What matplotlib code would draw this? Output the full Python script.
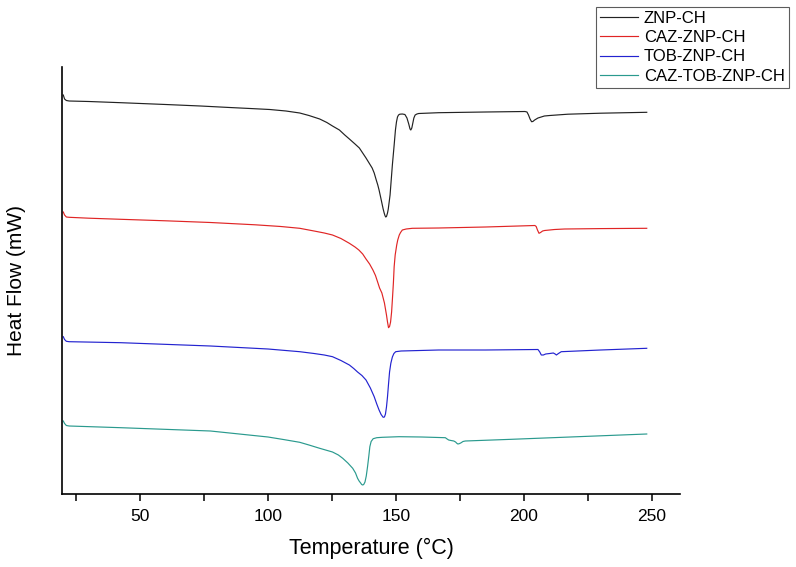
import numpy as np
import matplotlib
matplotlib.use("Agg")
import matplotlib.pyplot as plt
from matplotlib.ticker import MultipleLocator

plt.rcParams['font.family'] = ['Liberation Sans', 'DejaVu Sans']

# DSC thermograms (heat flow in arbitrary, stacked units)
t_znp = [20.0, 20.5, 21.2, 22.3, 30, 42.5, 60, 73.6, 85, 93, 100.7, 107, 112.4, 116,
         120.2, 123, 125.2, 127.9, 130, 131.8, 134, 135.7, 137, 138.3, 139.5, 140.7,
         141.5, 142.3, 142.9, 143.4, 144.0, 144.5, 145.0, 145.4, 145.7, 146.0, 146.3,
         146.7, 147.0, 147.3, 147.7, 148.0, 148.6, 149.3, 149.8, 150.2, 150.6, 151.0,
         151.5, 152.5, 153.5, 154.3, 155.0, 155.5, 155.8, 156.2, 156.6, 157.0, 157.5,
         158.2, 158.9, 166.7, 185, 200.4, 201.2, 201.8, 202.4, 203.0, 203.5, 204.2,
         205.5, 208, 210.1, 217.2, 230, 248]
hf_znp = [405, 401, 399.5, 399, 398.5, 397.3, 395.5, 394, 392.5, 391.5, 390.5, 389, 387, 384.5,
          381, 377.5, 374, 370, 365, 361, 356, 352, 347, 342, 337, 332,
          327, 320, 315, 310, 303, 297, 291, 287, 284.5, 283, 283.5,
          287, 291, 297, 305, 315, 335, 355, 370, 378, 383, 385,
          385.8, 386, 385.5, 382, 376, 371, 370, 372, 377, 382, 385,
          386, 386.5, 387.3, 388, 388.5, 388, 385, 381, 378.3, 378.5, 380,
          382, 384, 384.5, 385.8, 386.8, 387.7]

t_caz = [20.0, 20.5, 21.2, 22.3, 30, 42.5, 60, 77.5, 95, 105, 112.4, 118, 122, 125.2,
         128.5, 131.8, 134, 135.5, 137, 138.3, 139.7, 141, 142, 142.8, 143.6, 144.5,
         145.0, 145.5, 145.9, 146.3, 146.7, 147.1, 147.5, 147.9, 148.3, 148.6, 149.0,
         149.3, 149.7, 150.3, 150.7, 151.3, 151.8, 152.5, 154, 156.4, 166.7, 185,
         204.3, 204.8, 205.3, 205.9, 206.5, 207.3, 208.1, 212, 215.9, 230, 248]
hf_caz = [288, 285, 283, 282.7, 281.8, 280.7, 279.2, 277.5, 275.2, 273.5, 271.7, 269, 267, 265,
          261.5, 256.7, 253, 250, 246, 241, 236, 230, 224.5, 218.3, 212, 207,
          202, 197, 191, 185, 178, 172.3, 173.5, 178, 188, 200, 217,
          233.3, 245, 255, 260, 265, 267.5, 270, 271, 271.7, 272, 273,
          274.5, 273.5, 270, 266.7, 267.5, 269, 269.5, 270.5, 271, 271.4, 271.7]

t_tob = [20.0, 20.5, 21.2, 22.3, 42.5, 77.5, 100, 112.4, 118, 122, 125.2, 128.5, 131.8,
         133.5, 135, 136.7, 138.3, 140, 141.5, 142.5, 143.4, 144.2, 145.0, 145.5, 145.9,
         146.3, 146.7, 147.1, 147.5, 148.0, 148.6, 149.2, 149.9, 152, 156.4, 166.7, 185,
         205.5, 206.2, 206.8, 207.6, 208.5, 210.1, 211.5, 212.2, 212.7, 213.5, 214.6,
         230, 248]
hf_tob = [163.3, 160.5, 158.7, 158.3, 157.3, 154, 151, 148.3, 146.5, 145, 143.3, 139.5, 135,
          131.5, 128, 124.5, 120, 112, 103.3, 96, 90, 85.5, 82.7, 83, 86,
          93, 103.3, 116, 128, 136.7, 143, 146.5, 148.3, 149, 149.3, 150, 150,
          150.5, 148, 145, 145, 146, 146.5, 147, 146, 145, 146.5, 148.3,
          150, 151.7]

t_caztob = [20.0, 20.5, 21.2, 22.3, 42.5, 77.5, 100, 106, 112.4, 116, 120.2, 125.2, 127.5,
            129.2, 131.2, 133.1, 134.2, 135.0, 135.6, 136.2, 136.6, 137.0, 137.4, 137.9,
            138.4, 138.9, 139.4, 139.8, 140.3, 141.1, 142.5, 144.7, 151.2, 160, 169.3,
            170.0, 170.6, 171.5, 172.6, 173.3, 173.8, 174.2, 174.7, 175.3, 176.2, 177.1,
            195.2, 221.1, 248]
hf_caztob = [79, 76.5, 74.5, 74, 72.3, 69, 63, 60.5, 57.7, 55, 51.7, 48, 45,
             41.7, 37, 31.7, 27, 21.7, 19, 17, 15.5, 15, 15.5, 18,
             24, 33.3, 44, 53.3, 58.5, 61.3, 62.3, 62.7, 63.3, 63, 62.3,
             61, 60, 59.5, 59, 58, 56.7, 56, 56.3, 57, 58.5, 59,
             60.7, 63.3, 66]

labels = ['ZNP-CH', 'CAZ-ZNP-CH', 'TOB-ZNP-CH', 'CAZ-TOB-ZNP-CH']
colors = ['#222222', '#e02525', '#2323d0', '#2a9a8e']

fig = plt.figure(figsize=(7.96, 5.67), dpi=100)
ax = fig.add_axes([62/796, 73/567, 618/796, 427/567])

series = [(t_znp, hf_znp), (t_caz, hf_caz), (t_tob, hf_tob), (t_caztob, hf_caztob)]
for (t, hf), lab, c in zip(series, labels, colors):
    ax.plot(t, hf, color=c, lw=0.85, label=lab, solid_joinstyle='round')

ax.set_xlim(19.5, 261)
ax.set_ylim(6, 433)
ax.xaxis.set_major_locator(MultipleLocator(50))
ax.xaxis.set_minor_locator(MultipleLocator(25))
ax.tick_params(axis='x', which='both', direction='out', length=5, width=1.1,
               labelsize=12.5, pad=6)
ax.set_yticks([])
ax.spines[['top', 'right']].set_visible(False)
ax.spines[['left', 'bottom']].set_linewidth(1.2)

ax.set_xlabel('Temperature (°C)', fontsize=15.5, labelpad=10)
ax.set_ylabel('Heat Flow (mW)', fontsize=15, labelpad=26)

leg = fig.legend(loc='upper right', bbox_to_anchor=(789/796, 1 - 7/567),
                 fontsize=12, frameon=True, fancybox=False, borderaxespad=0,
                 borderpad=0.25, labelspacing=0.25, handlelength=2.3,
                 handletextpad=0.35)
leg.get_frame().set_edgecolor('#333333')
leg.get_frame().set_linewidth(0.8)

fig.savefig('out.png', dpi=100)
